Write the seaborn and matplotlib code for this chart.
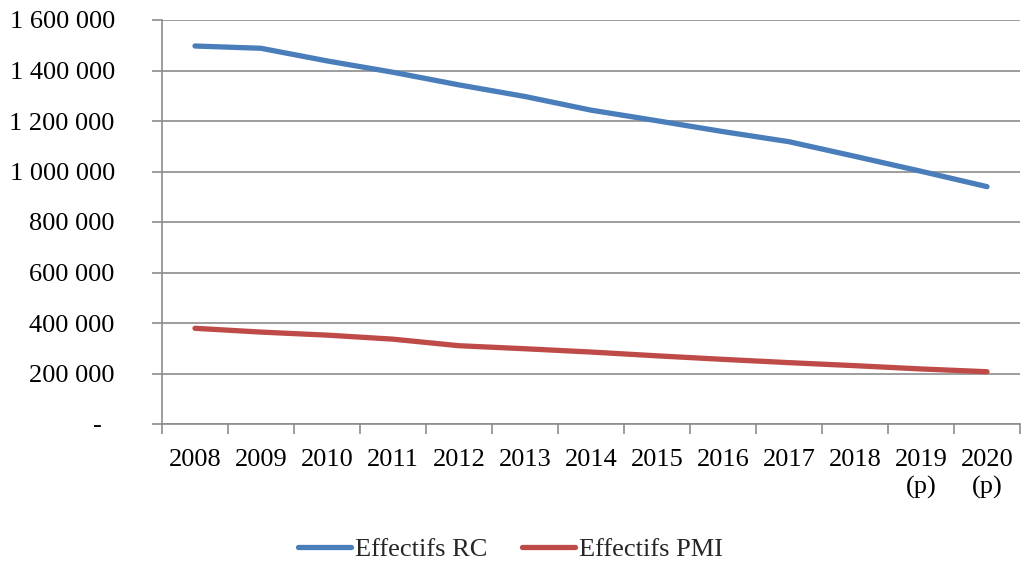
import numpy as np
import pandas as pd
import matplotlib
matplotlib.use("Agg")
import matplotlib.pyplot as plt
import seaborn as sns

# Data
years = ["2008", "2009", "2010", "2011", "2012", "2013", "2014",
         "2015", "2016", "2017", "2018", "2019\n(p)", "2020\n(p)"]
effectifs_rc = [1497000, 1488000, 1438000, 1393000, 1343000, 1297000, 1243000,
                1201000, 1158000, 1118000, 1060000, 1001000, 940000]
effectifs_pmi = [379000, 364000, 352000, 336000, 310000, 298000, 285000,
                 270000, 256000, 243000, 231000, 218000, 207000]
series_names = ["Effectifs RC", "Effectifs PMI"]
series_colors = ["#4A7EBB", "#BE4B48"]
y_ticks = [0, 200000, 400000, 600000, 800000, 1000000, 1200000, 1400000, 1600000]

FS = 19

sns.set_theme(style="white")
plt.rcParams["font.family"] = ["Liberation Serif", "DejaVu Serif"]
plt.rcParams["font.size"] = FS

pos = np.arange(len(years))
df = pd.DataFrame({
    "pos": np.concatenate([pos, pos]),
    "value": effectifs_rc + effectifs_pmi,
    "serie": [series_names[0]] * len(years) + [series_names[1]] * len(years),
})

fig = plt.figure(figsize=(10.21, 5.62), dpi=100)
ax = fig.add_axes([162 / 1021, 1 - 424 / 562, (1020 - 162) / 1021, (424 - 20) / 562])

sns.lineplot(data=df, x="pos", y="value", hue="serie", hue_order=series_names,
             palette=series_colors, linewidth=3.8, ax=ax, legend=False,
             solid_capstyle="round", solid_joinstyle="round")

grid_c = "#8C8C8C"
ax.set_xlim(-0.5, len(years) - 0.5)
ax.set_ylim(0, 1600000)
ax.set_yticks(y_ticks)
ax.set_yticklabels(["-  "] + [f"{v:,}".replace(",", " ") for v in y_ticks[1:]])
ax.set_xticks(pos)
ax.set_xticklabels(years)
ax.set_xticks(np.arange(-0.5, len(years)), minor=True)
ax.yaxis.grid(True, color=grid_c, linewidth=1.2)
ax.set_axisbelow(True)
ax.set_xlabel("")
ax.set_ylabel("")

for side in ["top", "right"]:
    ax.spines[side].set_visible(False)
for side in ["left", "bottom"]:
    ax.spines[side].set_color(grid_c)
    ax.spines[side].set_linewidth(1.2)

ax.tick_params(axis="y", which="major", direction="out", length=7, width=1.2,
               color=grid_c, pad=27, labelsize=FS, labelcolor="black", left=True)
ax.tick_params(axis="x", which="major", length=0, pad=18, labelsize=FS,
               labelcolor="black")
ax.tick_params(axis="x", which="minor", direction="out", length=7, width=1.2,
               color=grid_c, bottom=True)
for lbl in ax.get_xticklabels():
    lbl.set_multialignment("center")
    lbl.set_linespacing(1.3)

handles = [plt.Line2D([], [], color=c, linewidth=3.8, solid_capstyle="round")
           for c in series_colors]
fig.legend(handles, series_names, loc="center", bbox_to_anchor=(0.5, 0.022),
           ncol=2, frameon=False, fontsize=FS, handlelength=2.0,
           handletextpad=0.15, columnspacing=1.3)

fig.savefig("out.png", dpi=100, facecolor="white")
